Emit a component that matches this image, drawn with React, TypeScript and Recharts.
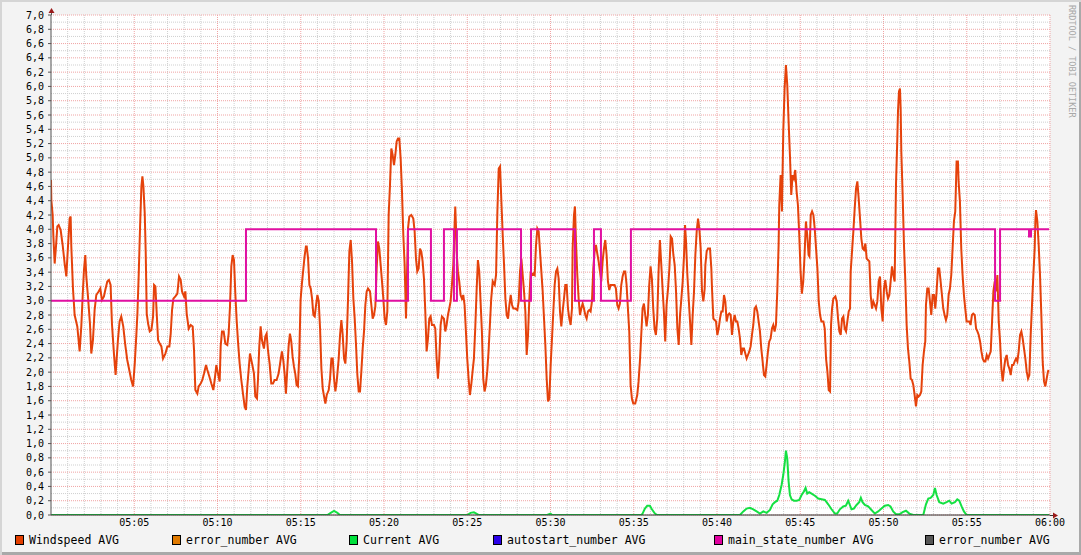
import React from 'react';
import { LineChart, Line, XAxis, YAxis, CartesianGrid } from 'recharts';

// time in minutes after 05:00, value
const WINDSPEED: [number, number][] = [
  [0.0, 4.69], [0.02, 4.41], [0.1, 4.2], [0.14, 3.92], [0.22, 3.52], [0.3, 3.76], [0.38, 4.04], [0.46, 4.06],
  [0.58, 3.99], [0.7, 3.78], [0.82, 3.52], [0.92, 3.34], [1.02, 3.76], [1.12, 4.15], [1.18, 4.18], [1.22, 3.76],
  [1.32, 3.17], [1.42, 2.8], [1.58, 2.64], [1.72, 2.29], [1.82, 2.64], [1.9, 3.06], [1.98, 3.43], [2.06, 3.64],
  [2.12, 3.34], [2.22, 3.06], [2.34, 2.68], [2.42, 2.26], [2.52, 2.45], [2.62, 2.87], [2.72, 3.08], [2.86, 3.13],
  [2.96, 3.17], [3.06, 3.01], [3.18, 3.06], [3.26, 3.15], [3.38, 3.27], [3.48, 3.29], [3.58, 3.22], [3.66, 2.68],
  [3.78, 2.26], [3.88, 1.96], [3.94, 2.17], [4.02, 2.45], [4.12, 2.71], [4.22, 2.78], [4.34, 2.64], [4.46, 2.38],
  [4.58, 2.17], [4.7, 2.03], [4.82, 1.89], [4.93, 1.8], [5.03, 2.12], [5.13, 2.54], [5.19, 2.82], [5.27, 3.38],
  [5.35, 4.04], [5.43, 4.6], [5.49, 4.74], [5.55, 4.6], [5.63, 4.22], [5.69, 3.66], [5.75, 2.82], [5.83, 2.68],
  [5.93, 2.57], [6.03, 2.59], [6.13, 2.78], [6.19, 3.22], [6.27, 3.2], [6.35, 2.82], [6.43, 2.45], [6.53, 2.4],
  [6.63, 2.36], [6.73, 2.19], [6.87, 2.26], [6.99, 2.36], [7.11, 2.36], [7.19, 2.54], [7.27, 2.87], [7.35, 3.03],
  [7.47, 3.06], [7.59, 3.1], [7.69, 3.34], [7.79, 3.29], [7.87, 3.13], [7.99, 3.06], [8.07, 3.13], [8.15, 2.82],
  [8.27, 2.61], [8.39, 2.66], [8.51, 2.64], [8.59, 2.31], [8.67, 1.75], [8.79, 1.7], [8.87, 1.8], [8.99, 1.84],
  [9.09, 1.89], [9.19, 1.98], [9.31, 2.1], [9.39, 2.03], [9.51, 1.94], [9.63, 1.84], [9.75, 1.75], [9.83, 1.89],
  [9.93, 2.1], [10.03, 1.98], [10.13, 1.87], [10.19, 2.36], [10.27, 2.57], [10.37, 2.57], [10.47, 2.4], [10.59, 2.38],
  [10.67, 2.54], [10.75, 2.92], [10.83, 3.48], [10.91, 3.64], [10.99, 3.57], [11.07, 3.1], [11.15, 2.73], [11.23, 2.43],
  [11.33, 2.12], [11.43, 1.89], [11.53, 1.7], [11.63, 1.52], [11.71, 1.47], [11.79, 1.8], [11.87, 2.03], [11.95, 2.26],
  [12.03, 2.17], [12.11, 2.08], [12.19, 1.98], [12.27, 1.66], [12.37, 1.63], [12.43, 1.89], [12.51, 2.36], [12.59, 2.64],
  [12.67, 2.45], [12.79, 2.33], [12.87, 2.5], [12.95, 2.54], [13.03, 2.31], [13.13, 2.12], [13.23, 1.84], [13.33, 1.84],
  [13.43, 1.89], [13.55, 1.89], [13.67, 1.98], [13.79, 2.17], [13.87, 2.29], [13.95, 2.17], [14.03, 1.98], [14.11, 1.7],
  [14.19, 2.03], [14.27, 2.36], [14.35, 2.54], [14.43, 2.43], [14.51, 2.22], [14.59, 2.08], [14.67, 1.98], [14.75, 1.82],
  [14.83, 1.8], [14.91, 2.22], [14.99, 3.01], [15.07, 3.24], [15.15, 3.43], [15.23, 3.62], [15.31, 3.76], [15.36, 3.76],
  [15.44, 3.59], [15.52, 3.22], [15.6, 3.17], [15.68, 3.03], [15.76, 2.8], [15.84, 2.78], [15.92, 2.94], [16.0, 3.08],
  [16.08, 2.99], [16.16, 2.61], [16.24, 2.05], [16.32, 1.77], [16.4, 1.66], [16.48, 1.56], [16.56, 1.68], [16.68, 1.75],
  [16.76, 1.91], [16.84, 2.19], [16.92, 2.19], [17.0, 1.91], [17.08, 1.73], [17.16, 1.87], [17.28, 2.19], [17.36, 2.52],
  [17.44, 2.73], [17.52, 2.52], [17.6, 2.19], [17.68, 2.12], [17.76, 2.43], [17.84, 3.03], [17.92, 3.69], [18.0, 3.85],
  [18.08, 3.55], [18.16, 3.03], [18.24, 2.75], [18.32, 2.38], [18.4, 1.96], [18.48, 1.73], [18.56, 1.73], [18.64, 2.01],
  [18.72, 2.33], [18.8, 2.57], [18.88, 2.94], [18.96, 3.13], [19.04, 3.17], [19.16, 3.13], [19.24, 2.94], [19.32, 2.75],
  [19.4, 2.8], [19.48, 2.92], [19.56, 3.45], [19.64, 3.83], [19.72, 3.73], [19.8, 3.5], [19.88, 3.27], [19.96, 3.03],
  [20.04, 2.75], [20.12, 2.66], [20.2, 2.85], [20.28, 4.2], [20.36, 4.62], [20.44, 5.13], [20.52, 5.04], [20.6, 4.9],
  [20.68, 5.04], [20.76, 5.23], [20.84, 5.27], [20.92, 5.27], [21.0, 4.99], [21.08, 4.53], [21.16, 3.92], [21.24, 3.5],
  [21.32, 2.75], [21.36, 3.13], [21.44, 4.01], [21.52, 4.18], [21.64, 4.2], [21.76, 4.15], [21.84, 3.97], [21.92, 3.59],
  [22.0, 3.41], [22.08, 3.45], [22.16, 3.73], [22.24, 3.69], [22.32, 3.55], [22.4, 3.31], [22.48, 2.85], [22.56, 2.29],
  [22.64, 2.47], [22.72, 2.75], [22.8, 2.78], [22.88, 2.66], [23.0, 2.66], [23.08, 2.61], [23.16, 2.19], [23.24, 1.91],
  [23.32, 2.19], [23.4, 2.66], [23.48, 2.78], [23.6, 2.75], [23.68, 2.57], [23.76, 2.66], [23.84, 2.8], [23.92, 2.89],
  [24.0, 2.99], [24.08, 3.22], [24.16, 3.5], [24.24, 4.06], [24.28, 4.32], [24.32, 4.06], [24.36, 3.69], [24.44, 3.41],
  [24.52, 3.27], [24.6, 3.08], [24.68, 3.03], [24.76, 3.08], [24.84, 2.94], [24.92, 2.57], [25.0, 2.19], [25.08, 1.91],
  [25.16, 1.68], [25.24, 1.82], [25.32, 2.01], [25.4, 2.19], [25.48, 2.61], [25.56, 3.13], [25.64, 3.57], [25.72, 3.41],
  [25.8, 2.99], [25.88, 2.57], [25.96, 1.91], [26.04, 1.73], [26.12, 1.82], [26.2, 2.01], [26.28, 2.29], [26.36, 2.66],
  [26.44, 3.03], [26.53, 3.27], [26.65, 3.22], [26.73, 3.36], [26.81, 4.25], [26.89, 4.85], [26.97, 4.88], [27.05, 4.39],
  [27.13, 3.92], [27.21, 3.5], [27.29, 3.03], [27.37, 2.8], [27.45, 2.75], [27.53, 2.94], [27.61, 3.08], [27.69, 2.94],
  [27.77, 2.89], [27.89, 2.89], [28.01, 2.87], [28.09, 2.99], [28.17, 3.41], [28.25, 3.59], [28.33, 3.36], [28.41, 3.13],
  [28.49, 2.85], [28.57, 2.24], [28.65, 2.52], [28.73, 3.03], [28.81, 3.41], [28.89, 3.36], [28.97, 3.38], [29.05, 3.36],
  [29.13, 3.78], [29.21, 4.01], [29.29, 3.97], [29.37, 3.69], [29.45, 3.41], [29.53, 3.13], [29.61, 2.75], [29.69, 2.38],
  [29.77, 1.91], [29.85, 1.59], [29.93, 1.63], [30.01, 2.1], [30.09, 2.47], [30.17, 2.85], [30.25, 3.22], [30.33, 3.41],
  [30.41, 3.45], [30.49, 3.31], [30.57, 2.85], [30.65, 2.64], [30.73, 2.85], [30.81, 3.03], [30.89, 3.22], [30.97, 3.22],
  [31.05, 2.89], [31.13, 2.75], [31.21, 2.66], [31.29, 2.89], [31.33, 3.73], [31.41, 4.2], [31.47, 4.32], [31.53, 3.83],
  [31.61, 3.36], [31.69, 3.03], [31.77, 2.8], [31.85, 2.89], [31.93, 2.96], [32.01, 2.89], [32.09, 2.8], [32.17, 2.75],
  [32.25, 2.85], [32.33, 2.87], [32.41, 2.85], [32.49, 2.99], [32.57, 3.45], [32.65, 3.69], [32.73, 3.78], [32.81, 3.66],
  [32.89, 3.55], [32.97, 3.41], [33.05, 3.27], [33.13, 3.55], [33.21, 3.73], [33.29, 3.85], [33.37, 3.64], [33.45, 3.27],
  [33.53, 3.15], [33.61, 3.22], [33.73, 3.22], [33.85, 3.22], [33.93, 3.17], [34.01, 2.94], [34.09, 2.89], [34.17, 2.96],
  [34.25, 3.22], [34.33, 3.34], [34.41, 3.41], [34.49, 3.41], [34.57, 3.22], [34.65, 2.89], [34.73, 2.57], [34.81, 1.82],
  [34.89, 1.63], [34.97, 1.56], [35.09, 1.56], [35.21, 1.68], [35.29, 1.87], [35.37, 2.15], [35.45, 2.52], [35.53, 2.89],
  [35.61, 2.96], [35.69, 2.8], [35.77, 2.64], [35.85, 2.8], [35.93, 3.22], [36.01, 3.48], [36.09, 3.31], [36.17, 2.89],
  [36.25, 2.61], [36.33, 2.52], [36.41, 2.75], [36.49, 3.41], [36.57, 3.85], [36.65, 3.52], [36.73, 3.17], [36.81, 2.85],
  [36.89, 2.43], [36.97, 2.94], [37.06, 3.17], [37.14, 3.45], [37.22, 3.9], [37.3, 3.87], [37.38, 3.64], [37.46, 3.5],
  [37.54, 3.13], [37.62, 2.61], [37.7, 2.38], [37.78, 2.8], [37.86, 3.03], [37.94, 3.27], [38.02, 3.64], [38.08, 4.06],
  [38.14, 3.83], [38.22, 3.36], [38.3, 3.03], [38.38, 2.71], [38.46, 2.38], [38.54, 2.8], [38.62, 3.13], [38.7, 3.64],
  [38.78, 3.97], [38.86, 4.15], [38.94, 4.01], [39.02, 3.73], [39.1, 3.13], [39.18, 2.99], [39.26, 3.17], [39.3, 3.5],
  [39.38, 3.69], [39.46, 3.73], [39.58, 3.73], [39.66, 3.45], [39.7, 3.17], [39.78, 2.75], [39.86, 2.73], [39.94, 2.71],
  [40.02, 2.52], [40.1, 2.61], [40.18, 2.75], [40.26, 2.85], [40.34, 2.85], [40.42, 3.08], [40.5, 2.99], [40.58, 2.71],
  [40.66, 2.8], [40.74, 2.82], [40.82, 2.8], [40.9, 2.52], [40.98, 2.71], [41.06, 2.8], [41.14, 2.71], [41.22, 2.71],
  [41.3, 2.61], [41.38, 2.47], [41.46, 2.24], [41.54, 2.33], [41.62, 2.33], [41.7, 2.26], [41.78, 2.19], [41.86, 2.24],
  [41.94, 2.29], [42.02, 2.36], [42.1, 2.52], [42.18, 2.66], [42.26, 2.89], [42.34, 2.92], [42.42, 2.85], [42.5, 2.71],
  [42.58, 2.57], [42.66, 2.33], [42.74, 2.15], [42.82, 1.96], [42.9, 1.94], [42.98, 2.1], [43.06, 2.29], [43.14, 2.43],
  [43.22, 2.47], [43.3, 2.61], [43.38, 2.66], [43.46, 2.57], [43.54, 2.66], [43.62, 3.13], [43.7, 3.78], [43.74, 4.34],
  [43.82, 4.76], [43.9, 4.25], [43.98, 5.37], [44.06, 5.97], [44.14, 6.3], [44.22, 6.02], [44.3, 5.51], [44.38, 5.04],
  [44.46, 4.48], [44.54, 4.76], [44.62, 4.71], [44.7, 4.83], [44.78, 4.53], [44.86, 4.34], [44.94, 3.92], [45.02, 3.41],
  [45.1, 3.1], [45.18, 3.27], [45.26, 3.64], [45.34, 4.11], [45.42, 3.92], [45.5, 3.64], [45.55, 3.62], [45.63, 4.2],
  [45.71, 4.25], [45.79, 4.2], [45.87, 4.01], [45.95, 3.73], [46.03, 3.45], [46.11, 2.99], [46.19, 2.8], [46.27, 2.71],
  [46.39, 2.71], [46.47, 2.61], [46.55, 2.19], [46.63, 2.01], [46.71, 1.75], [46.79, 1.73], [46.85, 2.66], [46.91, 2.89],
  [46.99, 3.03], [47.11, 3.06], [47.19, 2.99], [47.27, 2.75], [47.35, 2.57], [47.43, 2.52], [47.51, 2.75], [47.59, 2.78],
  [47.67, 2.61], [47.75, 2.57], [47.83, 2.71], [47.91, 2.85], [47.99, 2.89], [48.03, 3.41], [48.11, 3.69], [48.19, 3.97],
  [48.27, 4.29], [48.35, 4.57], [48.43, 4.67], [48.51, 4.43], [48.59, 4.15], [48.67, 3.87], [48.75, 3.73], [48.83, 3.71],
  [48.91, 3.8], [48.99, 3.59], [49.07, 3.57], [49.15, 3.55], [49.23, 3.08], [49.31, 2.89], [49.39, 2.99], [49.47, 2.94],
  [49.55, 2.89], [49.63, 2.99], [49.71, 3.27], [49.79, 3.34], [49.87, 2.89], [49.95, 2.71], [50.03, 3.17], [50.11, 3.29],
  [50.19, 3.13], [50.27, 3.03], [50.35, 3.08], [50.43, 3.27], [50.51, 3.48], [50.59, 3.36], [50.67, 3.27], [50.75, 4.62],
  [50.83, 5.27], [50.87, 5.65], [50.93, 5.93], [50.99, 5.97], [51.03, 5.69], [51.07, 5.09], [51.15, 4.48], [51.23, 3.78],
  [51.31, 3.27], [51.39, 2.66], [51.47, 2.33], [51.55, 2.15], [51.63, 1.91], [51.71, 1.89], [51.79, 1.82], [51.87, 1.68],
  [51.95, 1.52], [52.03, 1.68], [52.11, 1.66], [52.19, 1.68], [52.27, 1.73], [52.35, 2.1], [52.43, 2.29], [52.51, 2.43],
  [52.55, 2.94], [52.63, 3.17], [52.71, 3.17], [52.79, 2.99], [52.87, 2.8], [52.95, 3.08], [53.03, 3.08], [53.11, 2.89],
  [53.19, 3.13], [53.27, 3.45], [53.35, 3.45], [53.43, 3.27], [53.51, 3.08], [53.59, 2.89], [53.67, 2.8], [53.75, 2.73],
  [53.83, 2.8], [53.91, 3.08], [53.99, 3.17], [54.07, 3.36], [54.15, 3.73], [54.23, 4.11], [54.31, 4.25], [54.39, 4.95],
  [54.47, 4.95], [54.51, 4.67], [54.59, 4.39], [54.67, 3.73], [54.75, 3.36], [54.83, 3.08], [54.91, 2.89], [54.99, 2.71],
  [55.07, 2.71], [55.15, 2.71], [55.23, 2.66], [55.31, 2.8], [55.39, 2.82], [55.48, 2.8], [55.56, 2.61], [55.64, 2.57],
  [55.72, 2.52], [55.8, 2.43], [55.88, 2.29], [55.96, 2.19], [56.04, 2.15], [56.12, 2.15], [56.2, 2.24], [56.28, 2.19],
  [56.36, 2.24], [56.44, 2.29], [56.52, 2.71], [56.6, 3.13], [56.68, 3.27], [56.76, 3.13], [56.84, 3.36], [56.92, 2.71],
  [57.0, 2.43], [57.08, 2.05], [57.16, 1.87], [57.24, 2.05], [57.32, 2.19], [57.4, 2.24], [57.48, 2.1], [57.56, 2.05],
  [57.64, 1.96], [57.72, 2.1], [57.8, 2.1], [57.88, 2.15], [57.96, 2.19], [58.04, 2.15], [58.12, 2.29], [58.2, 2.52],
  [58.28, 2.57], [58.36, 2.47], [58.44, 2.33], [58.52, 2.19], [58.6, 2.01], [58.68, 1.91], [58.76, 1.96], [58.84, 2.52],
  [58.92, 2.94], [59.0, 3.36], [59.08, 3.73], [59.12, 4.11], [59.16, 4.27], [59.24, 4.11], [59.32, 3.78], [59.4, 3.36],
  [59.48, 2.8], [59.56, 2.15], [59.64, 1.87], [59.72, 1.8], [59.8, 1.91], [59.88, 2.01], [59.92, 2.03],
];

const MAIN_STATE: [number, number][] = [
  [0, 3], [11.71, 4], [19.52, 3], [21.44, 4], [22.82, 3], [23.6, 4], [24.2, 3], [24.38, 4],
  [28.23, 3], [28.83, 4], [31.47, 3], [32.61, 4], [33.03, 3], [34.83, 4], [56.7, 3], [57.0, 4],
  [58.74, 3.9], [58.86, 4], [59.94, 4],
];

const CURRENT: [number, number][] = [
  [0, 0], [16.6, 0], [16.8, 0.03], [17.0, 0.056], [17.2, 0.03], [17.35, 0],
  [25.0, 0], [25.2, 0.03], [25.4, 0.037], [25.55, 0.02], [25.7, 0],
  [29.8, 0], [30.0, 0.02], [30.1, 0],
  [35.47, 0], [35.53, 0.02], [35.67, 0.09], [35.81, 0.13], [35.97, 0.13], [36.09, 0.08], [36.27, 0.02], [36.41, 0],
  [41.38, 0], [41.58, 0.05], [41.78, 0.09], [41.98, 0.1], [42.18, 0.08], [42.38, 0.05], [42.58, 0.02], [42.78, 0.05],
  [42.98, 0.03], [43.18, 0.07], [43.34, 0.15], [43.48, 0.18], [43.62, 0.2], [43.74, 0.28], [43.88, 0.42], [43.98, 0.56],
  [44.08, 0.75], [44.14, 0.9], [44.22, 0.79], [44.3, 0.47], [44.38, 0.28], [44.48, 0.22], [44.62, 0.2], [44.78, 0.2],
  [44.94, 0.21], [45.08, 0.28], [45.22, 0.33], [45.32, 0.38], [45.42, 0.3], [45.54, 0.32], [45.68, 0.3], [45.88, 0.27],
  [46.08, 0.23], [46.28, 0.22], [46.48, 0.21], [46.68, 0.15], [46.88, 0.08], [47.08, 0.02], [47.22, 0.02], [47.38, 0.08],
  [47.58, 0.12], [47.74, 0.13], [47.88, 0.2], [47.98, 0.14], [48.08, 0.08], [48.22, 0.09], [48.38, 0.14], [48.54, 0.18],
  [48.64, 0.24], [48.74, 0.18], [48.88, 0.14], [49.08, 0.12], [49.28, 0.07], [49.48, 0.02], [49.68, 0.05], [49.88, 0.09],
  [50.08, 0.13], [50.28, 0.14], [50.42, 0.12], [50.58, 0.05], [50.75, 0.01], [50.95, 0.01], [51.15, 0.04], [51.35, 0.06],
  [51.55, 0.02], [51.79, 0], [52.39, 0], [52.55, 0.15], [52.69, 0.23], [52.83, 0.24], [52.99, 0.28], [53.09, 0.38],
  [53.19, 0.28], [53.35, 0.18], [53.59, 0.16], [53.79, 0.18], [53.95, 0.2], [54.09, 0.16], [54.29, 0.18], [54.43, 0.22],
  [54.55, 0.2], [54.69, 0.12], [54.83, 0.05], [54.99, 0], [59.94, 0],
];

const LEGEND_ITEMS = [
  { name: 'Windspeed AVG', color: '#e33f00', left: 15 },
  { name: 'error_number AVG', color: '#e07a00', left: 172 },
  { name: 'Current AVG', color: '#00e03c', left: 349 },
  { name: 'autostart_number AVG', color: '#2a00e8', left: 493 },
  { name: 'main_state_number AVG', color: '#e000a0', left: 714 },
  { name: 'error_number AVG', color: '#555555', left: 925 },
];

const X_TICKS = [5, 10, 15, 20, 25, 30, 35, 40, 45, 50, 55, 60];
const X_MINOR = Array.from({ length: 60 }, (_, i) => i + 1).filter((m) => m % 5 !== 0);
const Y_TICKS = Array.from({ length: 36 }, (_, i) => +(i * 0.2).toFixed(1));
const Y_MINOR = Array.from({ length: 35 }, (_, i) => +(i * 0.2 + 0.1).toFixed(1));

const toPoints = (rows: [number, number][]) => rows.map(([t, v]) => ({ t, v }));

const FONT = '"DejaVu Sans Mono", monospace';
const W = 1081;
const H = 555;
const PLOT_LEFT = 51;
const PLOT_TOP = 15;
const PLOT_RIGHT = 1050;
const PLOT_BOTTOM = 515;

const fmtTime = (m: number) => {
  const h = 5 + Math.floor(m / 60);
  const mm = m % 60;
  return `${String(h).padStart(2, '0')}:${String(mm).padStart(2, '0')}`;
};

const App: React.FC = () => {
  return (
    <div
      style={{
        position: 'relative',
        width: W,
        height: H,
        background: '#f3f3f3',
        boxShadow: 'inset 2px 2px 0 #d5d5d5, inset -2px -3px 0 #a9a9a9',
        fontFamily: FONT,
      }}
    >
      <style>{'body{margin:0}'}</style>
      <div
        style={{
          position: 'absolute',
          left: PLOT_LEFT,
          top: PLOT_TOP,
          width: PLOT_RIGHT - PLOT_LEFT,
          height: PLOT_BOTTOM - PLOT_TOP,
          background: '#ffffff',
        }}
      />
      <div style={{ position: 'absolute', left: 0, top: 0 }}>
        <LineChart width={W} height={H} margin={{ top: PLOT_TOP, right: W - PLOT_RIGHT, bottom: 0, left: 0 }}>
          <CartesianGrid
            horizontalValues={Y_MINOR}
            verticalValues={X_MINOR}
            stroke="#cfcfcf"
            strokeDasharray="1 1"
          />
          <CartesianGrid
            horizontalValues={Y_TICKS}
            verticalValues={X_TICKS}
            stroke="#f0a4a4"
            strokeDasharray="1 1"
          />
          <Line
            data={toPoints(WINDSPEED)}
            dataKey="v"
            type="linear"
            stroke="#e5420b"
            strokeWidth={2}
            dot={false}
            isAnimationActive={false}
          />
          <Line
            data={toPoints(CURRENT)}
            dataKey="v"
            type="linear"
            stroke="#14e042"
            strokeWidth={2}
            dot={false}
            isAnimationActive={false}
          />
          <Line
            data={toPoints(MAIN_STATE)}
            dataKey="v"
            type="stepAfter"
            stroke="#e010a2"
            strokeWidth={2}
            dot={false}
            isAnimationActive={false}
          />
          <XAxis
            type="number"
            dataKey="t"
            domain={[0, 60]}
            ticks={X_TICKS}
            interval={0}
            tickFormatter={fmtTime}
            height={H - PLOT_BOTTOM}
            axisLine={{ stroke: '#333333', strokeWidth: 1 }}
            tickLine={false}
            tickSize={2}
            tickMargin={2}
            tick={{ fill: '#000000', fontSize: 10, fontFamily: FONT }}
            allowDataOverflow
          />
          <YAxis
            type="number"
            domain={[0, 7]}
            ticks={Y_TICKS}
            interval={0}
            width={PLOT_LEFT}
            tickFormatter={(v: number) => v.toFixed(1).replace('.', ',')}
            axisLine={{ stroke: '#555555', strokeWidth: 1 }}
            tickLine={{ stroke: '#555555' }}
            tickSize={3}
            tickMargin={4}
            tick={{ fill: '#000000', fontSize: 10, fontFamily: FONT }}
            allowDataOverflow
          />
        </LineChart>
      </div>
      <svg
        width={W}
        height={H}
        style={{ position: 'absolute', left: 0, top: 0, pointerEvents: 'none' }}
      >
        <line x1={PLOT_LEFT + 0.5} y1={PLOT_TOP} x2={PLOT_LEFT + 0.5} y2={PLOT_TOP - 4} stroke="#555555" />
        <polygon
          points={`${PLOT_LEFT - 2.5},${PLOT_TOP - 2} ${PLOT_LEFT + 3.5},${PLOT_TOP - 2} ${PLOT_LEFT + 0.5},${PLOT_TOP - 7}`}
          fill="#9b1b1b"
        />
        <line x1={PLOT_RIGHT} y1={PLOT_BOTTOM + 0.5} x2={PLOT_RIGHT + 4} y2={PLOT_BOTTOM + 0.5} stroke="#333333" />
        <polygon
          points={`${PLOT_RIGHT + 3},${PLOT_BOTTOM - 2.5} ${PLOT_RIGHT + 3},${PLOT_BOTTOM + 3.5} ${PLOT_RIGHT + 8},${PLOT_BOTTOM + 0.5}`}
          fill="#9b1b1b"
        />
      </svg>
      <div
        style={{
          position: 'absolute',
          left: 1067,
          top: 5,
          writingMode: 'vertical-rl',
          fontSize: 8.5,
          color: '#a8a8a8',
          fontFamily: FONT,
          whiteSpace: 'nowrap',
        }}
      >
        RRDTOOL / TOBI OETIKER
      </div>
      {LEGEND_ITEMS.map((item, i) => (
        <div
          key={i}
          style={{
            position: 'absolute',
            left: item.left,
            top: 534,
            display: 'flex',
            alignItems: 'center',
            height: 12,
          }}
        >
          <span
            style={{
              width: 7,
              height: 8,
              background: item.color,
              border: '1px solid #000000',
              display: 'inline-block',
            }}
          />
          <span style={{ marginLeft: 5, fontSize: 11.5, color: '#000000', fontFamily: FONT, lineHeight: '12px' }}>
            {item.name}
          </span>
        </div>
      ))}
    </div>
  );
};

export default App;
